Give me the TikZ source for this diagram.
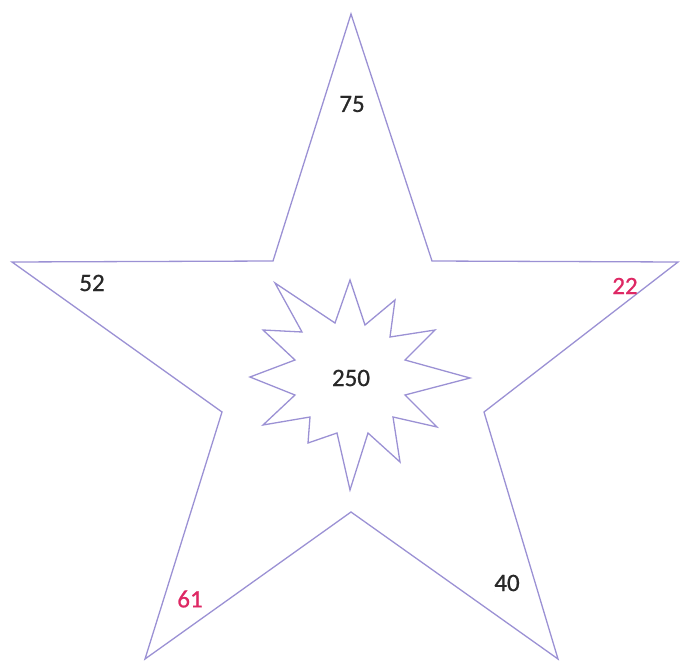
\documentclass[tikz,border=0pt]{standalone}
\usepackage{fontspec}
\setmainfont{Carlito}[FakeBold=0.8]
\definecolor{starline}{RGB}{155,145,212}
\definecolor{magnum}{RGB}{222,40,100}
\definecolor{darknum}{RGB}{40,40,40}
\begin{document}
\begin{tikzpicture}[x=1pt,y=-1pt,
  outline/.style={draw=starline,line width=1.3pt,line join=miter},
  num/.style={font=\fontsize{25}{25}\selectfont,text=darknum,inner sep=0pt},
  rednum/.style={num,text=magnum}]
\useasboundingbox (0,0) rectangle (680,661);
% outer star
\draw[outline] (351,14) -- (432,261) -- (678,262) -- (484,412) -- (558,659)
  -- (351,512) -- (145,659) -- (222,412) -- (12,262) -- (273,261) -- cycle;
% inner starburst
\draw[outline] (350,280) -- (365,325) -- (395,300) -- (390,337) -- (435,330)
  -- (405,360) -- (470,378) -- (405,395) -- (437,427) -- (393,417)
  -- (400,462) -- (368,433) -- (350,490) -- (337,433) -- (308,443)
  -- (310,417) -- (263,425) -- (295,395) -- (250,377) -- (295,360)
  -- (263,330) -- (302,332) -- (275,283) -- (335,323) -- cycle;
\node[num] (n75) at (352,104) {75};
\node[num] (n52) at (92,283) {52};
\node[rednum] (n22) at (625,286) {22};
\node[num] (n250) at (351,378) {250};
\node[rednum] (n61) at (190,599) {61};
\node[num] (n40) at (507,583) {40};
\end{tikzpicture}
\end{document}
